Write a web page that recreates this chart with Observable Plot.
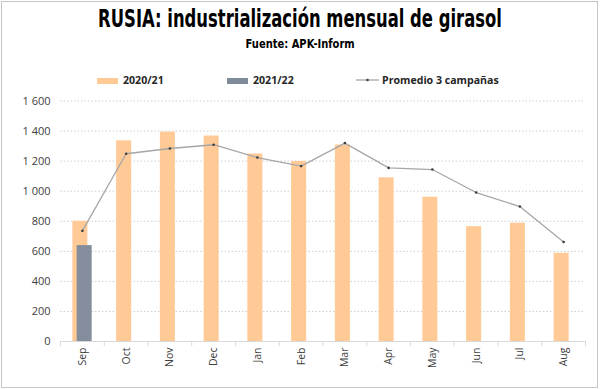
<!DOCTYPE html>
<html>
<head>
<meta charset="utf-8">
<script src="https://cdn.jsdelivr.net/npm/d3@7"></script>
<script src="https://cdn.jsdelivr.net/npm/@observablehq/plot@0.6"></script>
<style>
  html, body { margin: 0; padding: 0; background: #fff; }
  #wrap { position: relative; width: 600px; height: 389px; overflow: hidden; }
  #frame { position: absolute; left: 1px; top: 1px; width: 597px; height: 387px; box-sizing: border-box; border: 1px solid #c6c6c6; pointer-events: none; }
  #head { position: relative; height: 90px; }
  .title { position: absolute; left: 0; width: 600px; top: 5px; text-align: center; font-family: "DejaVu Sans Condensed", "Liberation Sans Narrow", sans-serif; font-weight: bold; font-size: 24px; color: #000; transform: scaleX(0.76); transform-origin: 300px 0; }
  .subtitle { position: absolute; left: 0; width: 600px; top: 36px; text-align: center; font-family: "DejaVu Sans Condensed", "Liberation Sans Narrow", sans-serif; font-weight: bold; font-size: 13px; color: #000; transform: scaleX(0.85); transform-origin: 301px 0; }
  .leg { position: absolute; top: 73px; font-family: "Open Sans", "DejaVu Sans", sans-serif; font-weight: bold; font-size: 10.6px; color: #262626; line-height: 14px; }
  .sw { position: absolute; top: 78px; width: 21px; height: 6px; }
  #chart { position: absolute; left: 0; top: 90px; }
</style>
</head>
<body>
<div id="wrap">
  <div id="head">
    <div class="title">RUSIA: industrialización mensual de girasol</div>
    <div class="subtitle">Fuente: APK-Inform</div>
    <div class="sw" style="left:97px; background:#FFCA96"></div>
    <div class="leg" style="left:123px">2020/21</div>
    <div class="sw" style="left:227px; background:#7F8A9B"></div>
    <div class="leg" style="left:253px">2021/22</div>
    <svg style="position:absolute; left:356px; top:76px" width="23" height="8">
      <line x1="0" y1="4" x2="23" y2="4" stroke="#A6A6A6" stroke-width="1.3"></line>
      <circle cx="11.5" cy="4" r="1.3" fill="#404040"></circle>
    </svg>
    <div class="leg" style="left:382px">Promedio 3 campañas</div>
  </div>
  <div id="chart"></div>
  <div id="frame"></div>
</div>
<script>
const months = ["Sep","Oct","Nov","Dec","Jan","Feb","Mar","Apr","May","Jun","Jul","Aug"];
const v2020_21 = [800, 1335, 1393, 1367, 1247, 1198, 1307, 1089, 960, 764, 787, 587];
const months2021_22 = ["Sep"];
const v2021_22 = [638];
const avg3 = [736, 1249, 1284, 1309, 1224, 1167, 1320, 1155, 1144, 991, 898, 662];
const yTicks = [0, 200, 400, 600, 800, 1000, 1200, 1400, 1600];

const rows = months.map((m, i) => ({month: m, v: v2020_21[i], avg: avg3[i]}));
const rows2 = months2021_22.map((m, i) => ({month: m, v: v2021_22[i]}));

const W = 600, ML = 60, MR = 15;
const step = (W - ML - MR) / months.length;
const fmt = d => d3.format(",")(d).replace(/,/g, " ");

const chart = Plot.plot({
  width: W,
  height: 299,
  marginLeft: ML,
  marginRight: MR,
  marginTop: 10.5,
  marginBottom: 48,
  style: {fontFamily: "'Open Sans', 'DejaVu Sans', sans-serif", color: "#595959", background: "transparent"},
  x: {domain: months, paddingInner: 0.657, paddingOuter: 0.3285, round: false, axis: null, label: null},
  y: {domain: [0, 1600], axis: null, label: null},
  marks: [
    Plot.gridY(yTicks.filter(d => d > 0), {stroke: "#cfcfcf", strokeOpacity: 1, strokeDasharray: "1.5,2"}),
    Plot.barY(rows, {x: "month", y: "v", fill: "#FFCA96", dx: -2}),
    Plot.barY(rows2, {x: "month", y: "v", fill: "#7F8A9B", fillOpacity: 0.97, dx: 2.3}),
    Plot.ruleY([0], {stroke: "#d9d9d9"}),
    Plot.ruleX(months, {x: d => d, y1: 0, y2: 0, insetBottom: -5, dx: -step / 2, stroke: "#d9d9d9"}),
    Plot.ruleX(months.slice(-1), {x: d => d, y1: 0, y2: 0, insetBottom: -5, dx: step / 2, stroke: "#d9d9d9"}),
    Plot.line(rows, {x: "month", y: "avg", stroke: "#A6A6A6", strokeWidth: 1.3}),
    Plot.dot(rows, {x: "month", y: "avg", r: 1.3, fill: "#404040", stroke: null}),
    Plot.axisY(yTicks, {tickSize: 0, tickPadding: 10, tickFormat: fmt, fontSize: 11, fill: "#404040", label: null}),
    Plot.axisX(months, {tickSize: 0, tickPadding: 6, tickRotate: -90, fontSize: 10.5, fill: "#404040", label: null})
  ]
});
document.getElementById("chart").appendChild(chart);
</script>
</body>
</html>
